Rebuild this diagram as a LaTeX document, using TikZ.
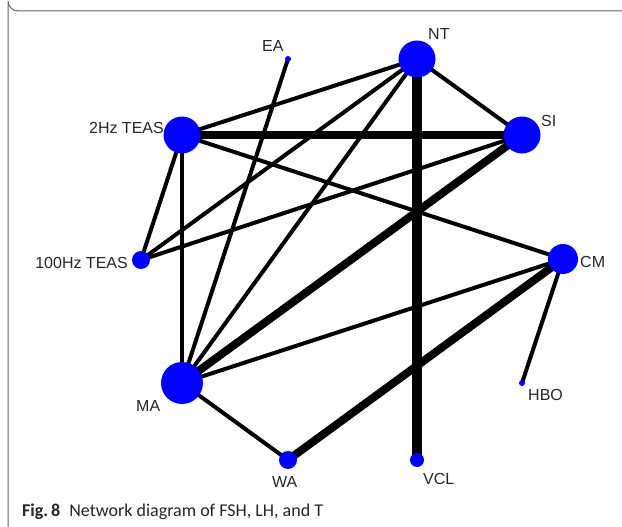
\documentclass[tikz,border=0pt]{standalone}
\usepackage{fontspec}
\setmainfont{Liberation Sans}
\newfontfamily\capfont{Carlito}
\begin{document}
\begin{tikzpicture}[x=1pt,y=-1pt,
  nd/.style={circle,fill=blue,inner sep=0pt},
  lab/.style={font=\fontsize{16}{16}\selectfont,text=black!85,inner sep=0pt},
  e1/.style={line width=4pt},
  e2/.style={line width=8pt},
  e3/.style={line width=10pt}]
\useasboundingbox (0,0) rectangle (622,527);
\fill[white] (0,0) rectangle (622,527);
\draw[black!60,line width=1pt] (622,11) -- (18,11) arc[start angle=90,end angle=180,radius=10] -- (8,527);
% node coordinates
\coordinate (NTc) at (417,59);
\coordinate (EAc) at (288,59);
\coordinate (TWc) at (182,135);
\coordinate (SIc) at (522,135);
\coordinate (HUc) at (141,260);
\coordinate (CMc) at (563,259);
\coordinate (HBc) at (522,383);
\coordinate (MAc) at (182,383);
\coordinate (WAc) at (288,460);
\coordinate (VCc) at (417,460);
% edges
\draw[e1] (EAc) -- (MAc);
\draw[e1] (NTc) -- (TWc);
\draw[e1] (NTc) -- (HUc);
\draw[e1] (NTc) -- (MAc);
\draw[e1] (NTc) -- (SIc);
\draw[e3] (NTc) -- (VCc);
\draw[e2] (TWc) -- (SIc);
\draw[e1] (TWc) -- (HUc);
\draw[e1] (TWc) -- (MAc);
\draw[e1] (TWc) -- (CMc);
\draw[e1] (HUc) -- (SIc);
\draw[e2] (SIc) -- (MAc);
\draw[e1] (MAc) -- (CMc);
\draw[e1] (MAc) -- (WAc);
\draw[e2] (WAc) -- (CMc);
\draw[e1] (CMc) -- (HBc);
% nodes
\node[nd,minimum size=37pt] (NT) at (NTc) {};
\node[nd,minimum size=6pt] (EA) at (EAc) {};
\node[nd,minimum size=37pt] (TW) at (TWc) {};
\node[nd,minimum size=37pt] (SI) at (SIc) {};
\node[nd,minimum size=18pt] (HU) at (HUc) {};
\node[nd,minimum size=30pt] (CM) at (CMc) {};
\node[nd,minimum size=6pt] (HB) at (HBc) {};
\node[nd,minimum size=42pt] (MA) at (MAc) {};
\node[nd,minimum size=18pt] (WA) at (WAc) {};
\node[nd,minimum size=14pt] (VC) at (VCc) {};
% labels
\node[lab,anchor=base west] (lNT) at (428,40) {NT};
\node[lab,anchor=base west] (lEA) at (262,52) {EA};
\node[lab,anchor=base east] (lTW) at (164,133) {2Hz TEAS};
\node[lab,anchor=base west] (lSI) at (541,127) {SI};
\node[lab,anchor=base east] (lHU) at (128,268) {100Hz TEAS};
\node[lab,anchor=base west] (lCM) at (580,267) {CM};
\node[lab,anchor=base west] (lHB) at (528,400) {HBO};
\node[lab,anchor=base west] (lMA) at (136,411) {MA};
\node[lab,anchor=base west] (lWA) at (272,487) {WA};
\node[lab,anchor=base west] (lVC) at (423,484) {VCL};
\node[anchor=base west,inner sep=0pt,font=\capfont\fontsize{18}{18}\selectfont,text=black!85] (cap) at (22,516) {\textbf{Fig.\,8}\hspace{0.5em}Network diagram of FSH, LH, and T};
\end{tikzpicture}
\end{document}
